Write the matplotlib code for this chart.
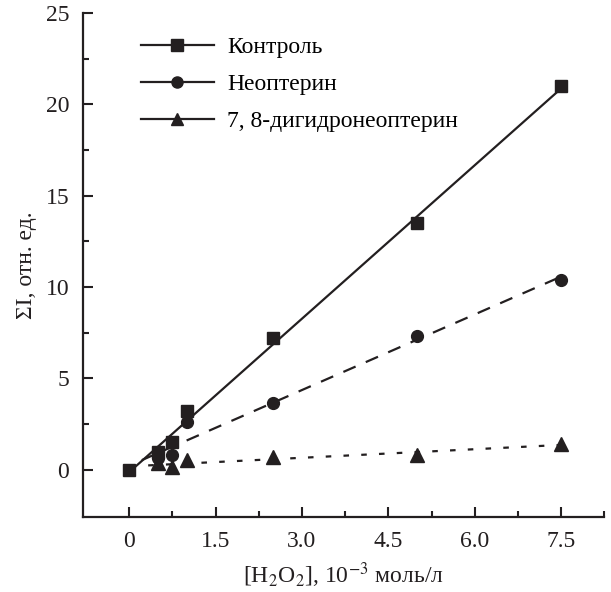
import numpy as np
import matplotlib
matplotlib.use("Agg")
import matplotlib.pyplot as plt
from matplotlib.lines import Line2D

plt.rcParams['font.family'] = ['Liberation Serif', 'DejaVu Serif']
plt.rcParams['mathtext.fontset'] = 'stix'

# H2O2 concentration, 10^-3 mol/l
x_control = [0, 0.5, 0.75, 1.0, 2.5, 5.0, 7.5]
y_control = [0, 1.0, 1.5, 3.2, 7.2, 13.5, 21.0]

x_neo = [0, 0.5, 0.75, 1.0, 2.5, 5.0, 7.5]
y_neo = [0, 0.65, 0.8, 2.6, 3.65, 7.3, 10.4]

x_dihydro = [0, 0.5, 0.75, 1.0, 2.5, 5.0, 7.5]
y_dihydro = [0, 0.37, 0.18, 0.55, 0.72, 0.82, 1.4]

labels = ['Контроль', 'Неоптерин', '7, 8-дигидронеоптерин']
x_ticks = [0, 1.5, 3.0, 4.5, 6.0, 7.5]
x_tick_labels = ['0', '1.5', '3.0', '4.5', '6.0', '7.5']
y_ticks = [0, 5, 10, 15, 20, 25]

fig = plt.figure(figsize=(6.11, 5.92), dpi=100)
ax = fig.add_axes([0.136, 0.127, 0.853, 0.851])

col = '#231f20'
fs = 17


def fit_line(xs, ys, x0, ls, dashes=None):
    k, b = np.polyfit(xs, ys, 1)
    xx = np.array([x0, max(xs)])
    line, = ax.plot(xx, k * xx + b, color=col, lw=1.6, ls=ls)
    if dashes:
        line.set_dashes(dashes)


fit_line(x_control, y_control, 0.05, '-')
fit_line(x_neo, y_neo, 0.22, '--', (6, 5))
fit_line(x_dihydro, y_dihydro, 0.33, ':', (2.5, 5.5))

ax.plot(x_control, y_control, 's', color=col, ms=8.5, ls='none')
ax.plot(x_neo[1:], y_neo[1:], 'o', color=col, ms=8.5, ls='none')
ax.plot(x_dihydro[1:], y_dihydro[1:], '^', color=col, ms=9.5, ls='none')

handles = [Line2D([], [], color=col, lw=1.6, marker=m, ms=ms)
           for m, ms in [('s', 8), ('o', 8), ('^', 9)]]
ax.legend(handles, labels, loc='upper left', bbox_to_anchor=(0.07, 0.995),
          frameon=False, fontsize=fs, handlelength=3.1, handletextpad=0.55,
          labelspacing=0.65)

ax.set_xlim(-0.8, 8.25)
ax.set_ylim(-2.57, 25)
ax.set_xticks(x_ticks)
ax.set_xticklabels(x_tick_labels)
ax.set_xticks(np.arange(0.75, 8.3, 1.5), minor=True)
ax.set_yticks(y_ticks)
ax.set_yticks(np.arange(2.5, 25, 5), minor=True)

ax.spines['top'].set_visible(False)
ax.spines['right'].set_visible(False)
for s in ['left', 'bottom']:
    ax.spines[s].set_linewidth(1.6)
    ax.spines[s].set_color(col)

ax.tick_params(which='major', direction='in', length=7, width=1.5,
               labelsize=fs, colors=col, pad=10)
ax.tick_params(which='minor', direction='in', length=4.5, width=1.5, colors=col)

ax.set_xlabel('[H$_2$O$_2$], 10$^{-3}$ моль/л', fontsize=fs, color=col, labelpad=6)
ax.set_ylabel('ΣI, отн. ед.', fontsize=fs, color=col, labelpad=6)

fig.savefig('out.png', dpi=100)
